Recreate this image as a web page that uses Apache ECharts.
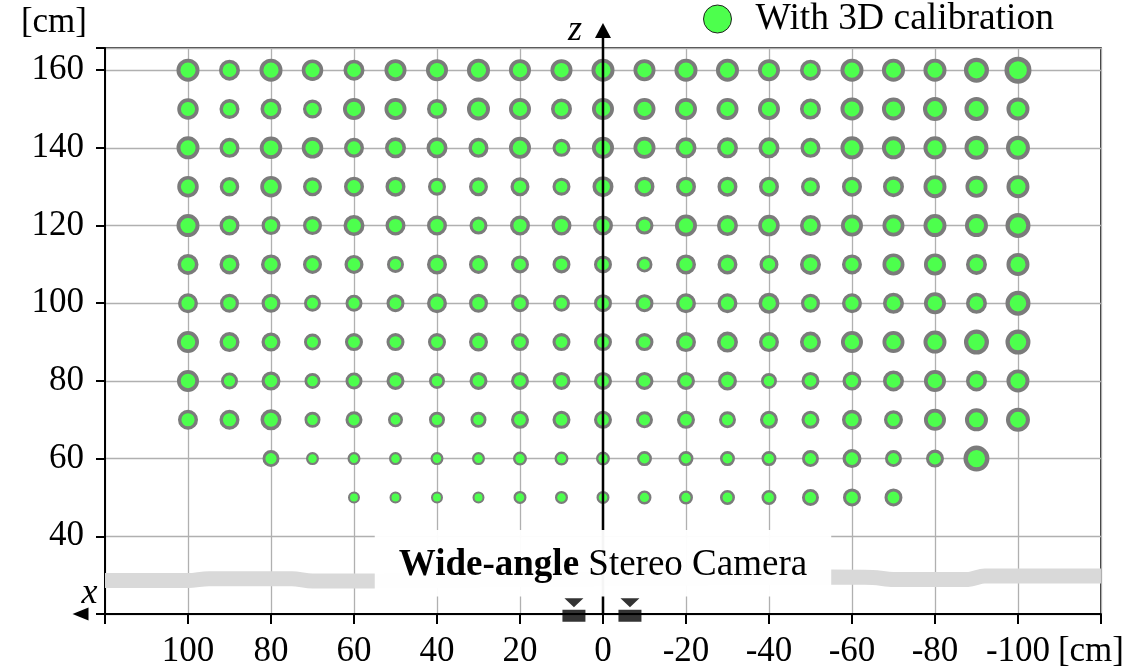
<!DOCTYPE html>
<html>
<head>
<meta charset="utf-8">
<title>Measured positions with 3D calibration</title>
<script src="https://cdn.jsdelivr.net/npm/echarts@6/dist/echarts.min.js"></script>
<style>
  html, body { margin: 0; padding: 0; background: #fff; }
  #chart { width: 1127px; height: 670px; }
</style>
</head>
<body>
<div id="chart"></div>
<script>
// Horizontal target positions (x, cm) and depth rows (z, cm)
const xCols = [100, 90, 80, 70, 60, 50, 40, 30, 20, 10, 0, -10, -20, -30, -40, -50, -60, -70, -80, -90, -100];
const zRows = [160, 150, 140, 130, 120, 110, 100, 90, 80, 70, 60, 50];

// Spot diameter for each target, one array per depth row (null = no target)
const spot160 = [23, 21, 23, 21.5, 21, 22, 22, 23, 22, 22, 23, 22, 23, 23, 22, 21, 23, 23, 23, 25, 27];
const spot150 = [21.5, 20, 21, 19, 22, 22, 20, 23, 22, 21, 22, 22, 22, 22, 22, 21, 23, 23, 24, 24, 23];
const spot140 = [23, 20, 22.5, 21.5, 20, 21, 21, 20, 22, 18, 22, 22, 21, 21, 21, 20, 23, 23, 23, 24, 24];
const spot130 = [21.5, 19.5, 21.5, 19, 20, 20, 18, 19, 19, 18, 21, 20, 20, 20, 20, 19, 20, 21, 23, 22, 23];
const spot120 = [23, 20, 19, 19, 21, 20, 20, 18, 20, 20, 20, 18, 22, 21, 21.5, 21, 22, 22, 23, 23, 25];
const spot110 = [21, 20, 20, 19, 19, 17, 20, 19, 18, 18, 18, 16, 20, 20, 19, 21, 20, 22, 22, 21, 23];
const spot100 = [20, 19, 19, 17, 17, 18, 20, 19, 18, 17, 18, 18, 20, 20, 21, 19, 20, 21, 22, 21, 25];
const spot90  = [22, 20, 19, 17, 18, 18, 18, 19, 18, 18, 18, 18, 20, 21, 20, 21, 22, 22, 23, 25, 25];
const spot80  = [22, 17, 19, 16, 17, 18, 16, 18, 18, 18, 18, 18, 18, 19, 16, 18, 19, 21, 22, 21, 23];
const spot70  = [20, 20, 21, 16, 17, 15, 16, 16, 18, 18, 18, 17, 18, 17, 18, 18, 20, 19, 22, 23, 24];
const spot60  = [null, null, 17, 13, 13, 13, 13, 13, 14, 14, 14, 15, 15, 15, 15, 17, 19, 17, 18, 26, null];
const spot50  = [null, null, null, null, 12, 12, 12, 12, 13, 13, 13, 14, 14, 15, 15, 17, 18, 18, null, null, null];
const spotRows = [spot160, spot150, spot140, spot130, spot120, spot110, spot100, spot90, spot80, spot70, spot60, spot50];

// Stereo camera positions on the x axis (cm)
const cameraX = [7, -6.5];

// Floor line drawn behind the camera caption (x, z in cm)
const floorLine = [[120, 28.6], [100, 28.6], [95, 29.1], [75, 29.1], [70, 28.5], [55, 28.5],
                   [-55, 29.5], [-65, 29.4], [-70, 28.9], [-88, 28.9], [-92, 29.8], [-120, 29.8]];

// Caption box extent (x from, x to, z from, z to) and caption row
const captionBox = [55, -55, 24.5, 41.6];
const captionZ = 32.6;
const captionBold = 'Wide-angle';
const captionRest = ' Stereo Camera';

// Axis labels
const xTickLabels = { 100: '100', 80: '80', 60: '60', 40: '40', 20: '20', 0: '0',
                      '-20': '-20', '-40': '-40', '-60': '-60', '-80': '-80', '-100': '-100' };
const yTickLabels = { 40: '40', 60: '60', 80: '80', 100: '100', 120: '120', 140: '140', 160: '160' };
const unitLabel = '[cm]';
const seriesName = 'With 3D calibration';

const SERIF = "'Liberation Serif', 'Times New Roman', serif";
const GREEN = '#4dff4d';
const RING = '#7b7b7b';

const points = [];
zRows.forEach((z, r) => {
  spotRows[r].forEach((d, c) => {
    if (d == null) return;
    const ring = d * 0.17;
    points.push({
      value: [xCols[c], z],
      symbolSize: d - ring,
      itemStyle: { borderWidth: ring }
    });
  });
});

const chart = echarts.init(document.getElementById('chart'), null, { renderer: 'canvas' });

chart.setOption({
  animation: false,
  backgroundColor: '#fff',
  textStyle: { fontFamily: SERIF },
  grid: {
    left: 105, right: 25, top: 48, bottom: 56,
    show: true, borderColor: '#000', borderWidth: 1.5, backgroundColor: 'transparent'
  },
  legend: {
    data: [seriesName],
    left: 703, top: 0, padding: 0,
    icon: 'circle',
    itemWidth: 28, itemHeight: 28,
    itemStyle: { color: GREEN, borderColor: '#222', borderWidth: 1 },
    textStyle: { fontFamily: SERIF, fontSize: 37.5, color: '#000', padding: [0, 0, 0, 19] }
  },
  xAxis: {
    type: 'value', inverse: true, min: -120, max: 120, interval: 20,
    axisLine: { onZero: false, lineStyle: { color: '#000', width: 2 } },
    axisTick: { show: true, length: 10, lineStyle: { color: '#000', width: 2 } },
    axisLabel: {
      showMinLabel: true, showMaxLabel: true,
      fontFamily: SERIF, fontSize: 35, color: '#000', margin: 20,
      formatter: v => (v === -120 ? '{u|' + unitLabel + '}' : (xTickLabels[v] || '')),
      rich: { u: { fontFamily: SERIF, fontSize: 35, color: '#000', padding: [0, 20, 0, 0] } }
    },
    splitLine: { show: true, lineStyle: { color: '#b0b0b0', width: 1.3 } }
  },
  yAxis: {
    type: 'value', min: 20, max: 165.7, interval: 20,
    name: unitLabel, nameLocation: 'end', nameGap: 8,
    nameTextStyle: { fontFamily: SERIF, fontSize: 35, color: '#000', align: 'right', verticalAlign: 'bottom', padding: [0, 18, 0, 0] },
    axisLine: { onZero: false, lineStyle: { color: '#000', width: 2 } },
    axisTick: { show: true, length: 9, lineStyle: { color: '#000', width: 2 } },
    axisLabel: {
      fontFamily: SERIF, fontSize: 35, color: '#000', margin: 21,
      formatter: v => yTickLabels[v] || ''
    },
    splitLine: { show: true, lineStyle: { color: '#b0b0b0', width: 1.3 } }
  },
  series: [
    {
      // floor line
      type: 'line', z: 1, silent: true,
      data: floorLine, smooth: 0.35, showSymbol: false, clip: false,
      lineStyle: { color: '#d9d9d9', width: 15, cap: 'butt' }
    },
    {
      name: seriesName,
      type: 'scatter', z: 2, clip: false,
      data: points,
      itemStyle: { color: GREEN, borderColor: RING, opacity: 1 }
    },
    {
      // z axis through the camera origin
      type: 'line', z: 4, silent: true, clip: false,
      showSymbol: true,
      data: [
        { value: [0, 20], symbol: 'none' },
        {
          value: [0, 170.2], symbol: 'triangle', symbolSize: [16, 15],
          label: { show: true, formatter: 'z', position: 'left', distance: 13,
                   fontFamily: SERIF, fontStyle: 'italic', fontSize: 36, color: '#000' }
        }
      ],
      itemStyle: { color: '#000' },
      lineStyle: { color: '#000', width: 2.5 }
    },
    {
      // x axis arrow extension beyond the frame
      type: 'line', z: 4, silent: true, clip: false,
      showSymbol: true,
      data: [
        { value: [120, 20], symbol: 'none' },
        {
          value: [125.9, 20], symbol: 'triangle', symbolSize: [13, 16], symbolRotate: 90,
          label: { show: true, formatter: 'x', position: 'top', distance: 2, offset: [9, 6],
                   fontFamily: SERIF, fontStyle: 'italic', fontSize: 36, color: '#000' }
        }
      ],
      itemStyle: { color: '#000' },
      lineStyle: { color: '#000', width: 2 }
    },
    {
      // caption box over the floor line
      type: 'custom', z: 5, silent: true, clip: false,
      data: [[0, captionZ]],
      renderItem: (params, api) => {
        const a = api.coord([captionBox[0], captionBox[3]]);
        const b = api.coord([captionBox[1], captionBox[2]]);
        const c = api.coord([api.value(0), api.value(1)]);
        return {
          type: 'group',
          children: [
            { type: 'rect', shape: { x: a[0], y: a[1], width: b[0] - a[0], height: b[1] - a[1] },
              style: { fill: 'rgba(255,255,255,0.96)' } },
            { type: 'text', x: c[0], y: c[1],
              style: {
                text: '{b|' + captionBold + '}{r|' + captionRest + '}',
                align: 'center', verticalAlign: 'middle',
                rich: {
                  b: { fontFamily: SERIF, fontSize: 37, fontWeight: 'bold', fill: '#000' },
                  r: { fontFamily: SERIF, fontSize: 37, fill: '#000' }
                }
              } }
          ]
        };
      }
    },
    {
      // stereo camera pair
      type: 'scatter', z: 6, silent: true, clip: false,
      data: cameraX.map(x => [x, 20]),
      symbol: 'path://M2,0 L21,0 L11.5,9 Z M0,11.5 L23,11.5 L23,23.5 L0,23.5 Z',
      symbolSize: [23, 23.5],
      symbolOffset: [0, -4],
      itemStyle: { color: '#000' }
    }
  ]
});
</script>
</body>
</html>
